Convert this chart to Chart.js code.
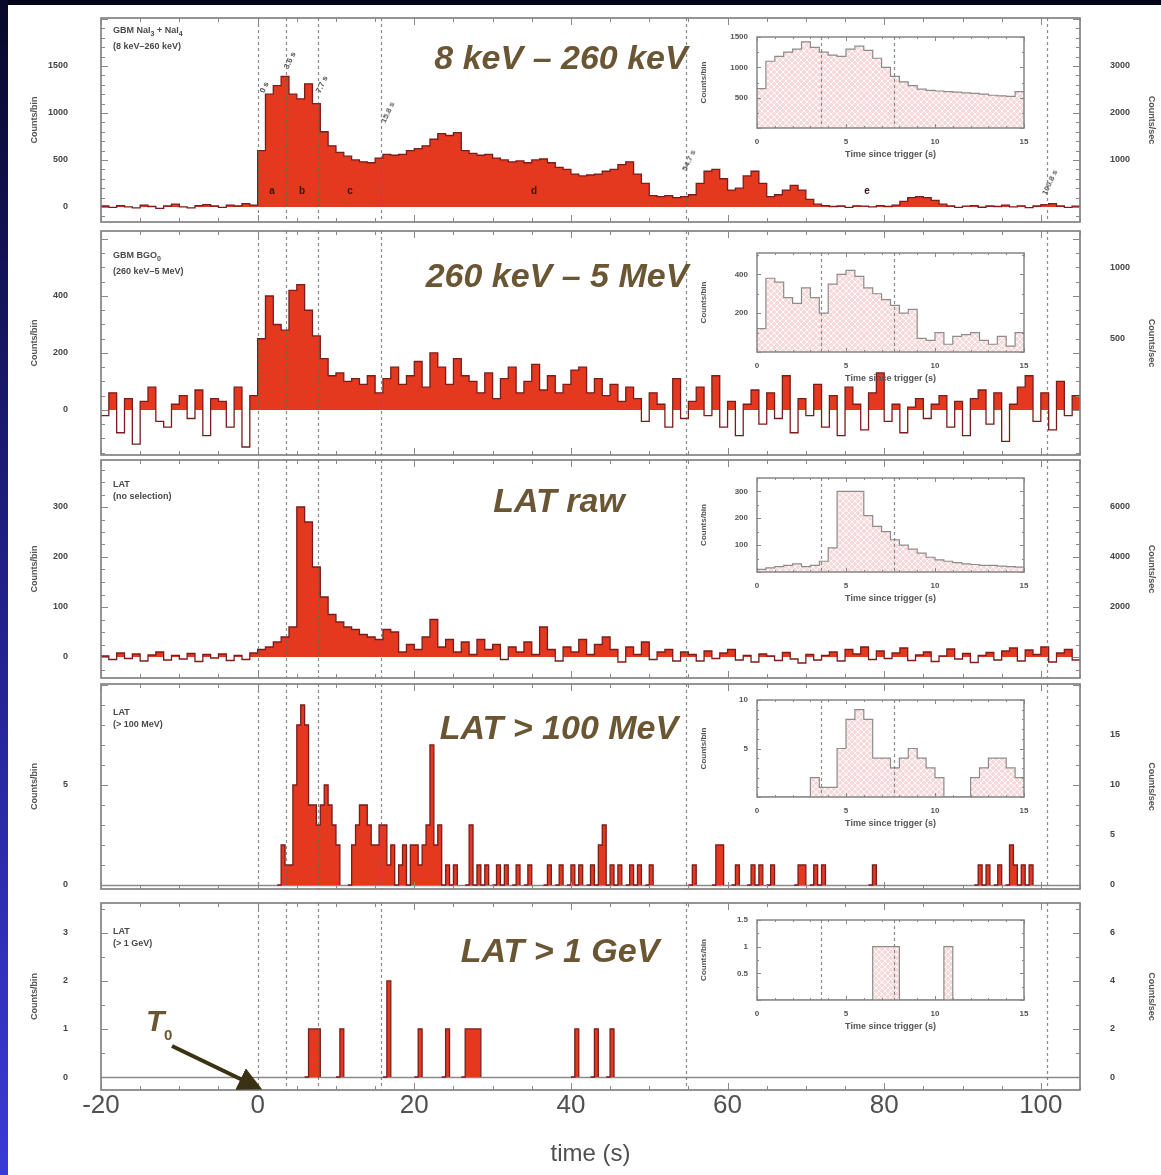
<!DOCTYPE html>
<html><head><meta charset="utf-8">
<script src="https://cdn.jsdelivr.net/npm/chart.js@4.4.1/dist/chart.umd.min.js"></script>
<style>
html,body{margin:0;padding:0;}
body{width:1161px;height:1175px;position:relative;overflow:hidden;background:#03031a;font-family:"Liberation Sans",Arial,sans-serif;}
#sheet{position:absolute;left:8px;top:5px;width:1153px;height:1170px;background:#fff;}
#strip{position:absolute;left:0;top:0;width:8px;height:1175px;background:linear-gradient(#08082a,#1e1e80 45%,#3a3ad6);}
canvas{position:absolute;}
.t{position:absolute;white-space:nowrap;}
.title{font:italic bold 34px "Liberation Sans",Arial,sans-serif;color:#6b5634;transform:translateX(-50%);line-height:38px;}
.lab{font:bold 9px "Liberation Sans",Arial,sans-serif;color:#4a4a4a;line-height:12px;}
.rot{font:bold 8px "Liberation Sans",Arial,sans-serif;color:#555;transform:rotate(-65deg);transform-origin:left center;}
.iv{font:bold 10px "Liberation Sans",Arial,sans-serif;color:#3a1212;transform:translateX(-50%);}
sub{font-size:7px;}
</style>
</head>
<body>
<div id="strip"></div>
<div id="sheet"></div>
<canvas id="p1" width="1161" height="224" style="left:0;top:8px"></canvas>
<canvas id="p2" width="1161" height="244" style="left:0;top:221px"></canvas>
<canvas id="p3" width="1161" height="238" style="left:0;top:450px"></canvas>
<canvas id="p4" width="1161" height="225" style="left:0;top:674px"></canvas>
<canvas id="p5" width="1161" height="282" style="left:0;top:893px"></canvas>
<canvas id="i1" width="340" height="137" style="left:690px;top:27px"></canvas>
<canvas id="i2" width="340" height="145" style="left:690px;top:243px"></canvas>
<canvas id="i3" width="340" height="140" style="left:690px;top:468px"></canvas>
<canvas id="i4" width="340" height="143" style="left:690px;top:690px"></canvas>
<canvas id="i5" width="340" height="126" style="left:690px;top:910px"></canvas>

<div class="t title" style="left:561px;top:38px">8 keV – 260 keV</div>
<div class="t title" style="left:557px;top:256px">260 keV – 5 MeV</div>
<div class="t title" style="left:559px;top:481px">LAT raw</div>
<div class="t title" style="left:559px;top:708px">LAT &gt; 100 MeV</div>
<div class="t title" style="left:560px;top:931px">LAT &gt; 1 GeV</div>

<div class="t lab" style="left:113px;top:24px">GBM NaI<sub>3</sub> + NaI<sub>4</sub><br>(8 keV–260 keV)</div>
<div class="t lab" style="left:113px;top:249px">GBM BGO<sub>0</sub><br>(260 keV–5 MeV)</div>
<div class="t lab" style="left:113px;top:478px">LAT<br>(no selection)</div>
<div class="t lab" style="left:113px;top:706px">LAT<br>(&gt; 100 MeV)</div>
<div class="t lab" style="left:113px;top:925px">LAT<br>(&gt; 1 GeV)</div>

<div class="t rot" style="left:262px;top:88px">0 s</div>
<div class="t rot" style="left:286px;top:64px">3.6 s</div>
<div class="t rot" style="left:318px;top:88px">7.7 s</div>
<div class="t rot" style="left:383px;top:118px">15.8 s</div>
<div class="t rot" style="left:684px;top:166px">54.7 s</div>
<div class="t rot" style="left:1044px;top:190px">100.8 s</div>

<div class="t iv" style="left:272px;top:185px">a</div>
<div class="t iv" style="left:302px;top:185px">b</div>
<div class="t iv" style="left:350px;top:185px">c</div>
<div class="t iv" style="left:534px;top:185px">d</div>
<div class="t iv" style="left:867px;top:185px">e</div>

<div class="t" style="left:146px;top:1004px;font:italic bold 30px 'Liberation Sans',Arial,sans-serif;color:#6b5634;">T</div>
<div class="t" style="left:164px;top:1026px;font:bold 15px 'Liberation Sans',Arial,sans-serif;color:#6b5634;">0</div>
<svg style="position:absolute;left:0;top:0" width="1161" height="1175">
  <defs><marker id="ah" markerWidth="6" markerHeight="6" refX="4" refY="3" orient="auto"><path d="M0,0 L6,3 L0,6 z" fill="#3b3214"/></marker></defs>
  <line x1="172" y1="1046" x2="255" y2="1086" stroke="#3b3214" stroke-width="4" marker-end="url(#ah)"/>
</svg>

<script>
// ---------------- DATA ----------------
const mainBinStart = -20;          // s, first bin of panels 1-3
const mainBinWidth = 1;            // s
const latBinWidth = 0.5;           // s, LAT photon bins
const insetBinWidth = 0.5;         // s

const intervalTimes = [0, 3.6, 7.7, 15.8, 54.7, 100.8];
const timeTicks = [-20, 0, 20, 40, 60, 80, 100];
const insetTimeTicks = [0, 5, 10, 15];

// GBM NaI (8 keV - 260 keV), counts/bin, 1 s bins from -20 s
const gbmNaICounts = [10,-5,15,0,-10,20,5,-15,10,30,0,-10,15,25,10,-5,20,10,35,20,
  600,1200,1290,1390,1200,1150,1310,1100,800,650,
  580,540,500,480,470,520,560,550,560,600,
  620,650,720,780,760,790,600,570,550,560,
  520,500,480,490,470,500,510,470,420,400,
  350,330,340,350,380,400,450,480,350,250,
  120,110,120,100,110,130,250,380,400,300,
  180,200,330,380,250,110,130,180,230,180,
  80,30,15,5,10,-5,12,8,0,15,
  5,20,60,100,110,100,70,30,10,-5,
  8,15,-3,10,5,20,0,12,-8,10,
  25,35,10,-5,8];
// GBM BGO (260 keV - 5 MeV)
const gbmBGOCounts = [-20,60,-80,40,-120,30,80,-40,-60,20,50,-30,70,-90,40,30,-60,80,-130,50,
  250,400,300,280,420,440,350,260,180,120,
  130,100,110,90,120,60,110,150,90,120,
  170,80,200,150,90,180,120,100,60,130,
  40,110,150,60,100,160,70,120,60,90,
  140,150,60,110,50,90,30,80,40,-40,
  60,20,-60,110,-30,30,80,-20,120,-60,
  30,-90,20,70,-50,60,-30,120,-80,40,
  -20,90,-60,50,-90,80,20,-70,60,130,
  -40,20,-80,10,40,-30,20,50,-60,30,
  -90,40,70,-50,60,-110,20,80,120,-40,
  60,-70,100,-20,50];
// LAT raw (no selection)
const latRawCounts = [2,-5,8,-3,6,-8,4,10,-6,3,-4,7,-9,5,-2,6,-7,3,-5,8,
  15,20,30,40,60,300,270,180,120,85,
  70,60,55,45,40,35,55,50,10,25,
  15,40,75,20,35,10,30,5,35,15,
  25,-5,20,10,30,5,60,15,-8,20,
  10,35,5,25,40,15,-10,20,5,30,
  -5,10,15,-8,10,5,-8,12,-3,8,
  15,-6,3,-10,6,2,-7,9,-4,-12,
  5,-6,3,10,-8,15,6,20,-5,12,
  -3,8,18,-7,4,10,-9,2,16,-4,
  7,-11,3,9,-6,12,18,-8,14,5,
  20,-10,8,15,-6];
// LAT > 100 MeV: 0.5 s bins from 0 to 15 s, then sparse later bins
const lat100EarlyCounts = [0,0,0,0,0,0,2,1,1,5,8,9,8,4,4,3,4,5,4,3,2,0,0,0,2,3,4,4,3,2];
const lat100LateTimes  = [15,15.5,16,16.5,17,18,18.5,19.5,20,20.5,21,21.5,22,22.5,23,24,25,27,28,29,30.5,31.5,33,34.5,37,38.5,40,41,42.5,43.5,44,45,46,47.5,48.5,50,55.5,58.5,59,61,63,64,65.5,69,69.5,71,72,78.5,92,93,94.5,96,96.5,97.5,98.5];
const lat100LateCounts = [2,3,3,1,2,1,2,2,2,1,2,3,7,2,3,1,1,3,1,1,1,1,1,1,1,1,1,1,1,2,3,1,1,1,1,1,1,2,2,1,1,1,1,1,1,1,1,1,1,1,1,2,1,1,1];
// LAT > 1 GeV
const lat1GeVTimes  = [6.5,7,7.5,10.5,16.5,20.5,24,26.5,27,27.5,28,40.5,43,45];
const lat1GeVCounts = [1,1,1,1,2,1,1,1,1,1,1,1,1,1];
// insets, 0.5 s bins 0-15 s
const insetNaICounts = [650,1100,1180,1250,1300,1420,1330,1250,1200,1180,1300,1350,1280,1150,1000,850,760,700,640,620,610,600,590,580,570,560,540,530,520,600];
const insetBGOCounts = [120,380,360,280,250,330,280,200,350,400,420,390,330,300,270,240,200,220,70,60,100,40,80,90,100,60,40,80,30,100];
const insetRawCounts = [10,15,20,25,30,20,25,40,90,300,300,300,210,170,150,120,100,85,70,55,45,40,35,30,28,25,25,22,20,18];

// tick labels
const p1LeftTicks = [0,500,1000,1500],   p1RightTicks = [1000,2000,3000];
const p2LeftTicks = [0,200,400],         p2RightTicks = [500,1000];
const p3LeftTicks = [0,100,200,300],     p3RightTicks = [2000,4000,6000];
const p4LeftTicks = [0,5],               p4RightTicks = [0,5,10,15];
const p5LeftTicks = [0,1,2,3],           p5RightTicks = [0,2,4,6];
const i1Ticks = [500,1000,1500], i2Ticks = [200,400], i3Ticks = [100,200,300], i4Ticks = [5,10], i5Ticks = [0.5,1,1.5];

// ---------------- HELPERS ----------------
const FONT = '"Liberation Sans", Arial, sans-serif';
Chart.defaults.font.family = FONT;
const COL_FILL = '#e5391f', COL_LINE = '#7b1c1c';
const NONE = 'rgba(0,0,0,0)';
const plain = v => String(v);

function stepPoints(start, width, vals) {
  const pts = vals.map((v, i) => ({x: start + i * width, y: v}));
  pts.push({x: start + vals.length * width, y: vals[vals.length - 1]});
  return pts;
}
function sparseBins(start, width, n, early, times, counts) {
  const a = new Array(n).fill(0);
  early.forEach((v, i) => { a[i] = v; });
  times.forEach((t, i) => { const k = Math.round((t - start) / width); if (k >= 0 && k < n) a[k] += counts[i]; });
  return a;
}
const lat100Bins = sparseBins(0, latBinWidth, 210, lat100EarlyCounts, lat100LateTimes, lat100LateCounts);
const lat1GeVBins = sparseBins(0, latBinWidth, 210, [], lat1GeVTimes, lat1GeVCounts);

function hatchPattern() {
  const c = document.createElement('canvas'); c.width = 6; c.height = 6;
  const g = c.getContext('2d');
  g.fillStyle = '#f8d9d9'; g.fillRect(0, 0, 6, 6);
  g.strokeStyle = 'rgba(255,255,255,0.85)'; g.lineWidth = 1;
  g.beginPath(); g.moveTo(0, 0); g.lineTo(6, 6); g.moveTo(6, 0); g.lineTo(0, 6); g.stroke();
  return g.createPattern(c, 'repeat');
}
const HATCH = hatchPattern();

const framePlugin = {
  id: 'frame',
  beforeDatasetsDraw(chart, args, o) {
    if (!o.baseline) return;
    const {ctx, chartArea: a, scales: {y}} = chart;
    const py = Math.round(y.getPixelForValue(0)) + 0.5;
    ctx.save(); ctx.strokeStyle = '#8a8a8a'; ctx.lineWidth = 1.5;
    ctx.beginPath(); ctx.moveTo(a.left, py); ctx.lineTo(a.right, py); ctx.stroke(); ctx.restore();
  },
  afterDatasetsDraw(chart, args, o) {
    const {ctx, chartArea: a, scales: {x, y}} = chart;
    ctx.save();
    ctx.strokeStyle = 'rgba(100,100,100,0.75)';
    ctx.lineWidth = 1.2; ctx.setLineDash([3, 3]);
    (o.lines || []).forEach(t => {
      if (t <= x.min || t >= x.max) return;
      const px = Math.round(x.getPixelForValue(t)) + 0.5;
      ctx.beginPath(); ctx.moveTo(px, a.top); ctx.lineTo(px, a.bottom); ctx.stroke();
    });
    ctx.setLineDash([]);
    ctx.strokeStyle = o.frameColor || '#7a7a7a'; ctx.lineWidth = o.frameWidth || 1.6;
    ctx.strokeRect(a.left, a.top, a.width, a.height);
    ctx.lineWidth = 1; ctx.strokeStyle = '#888';
    ctx.beginPath();
    for (let t = Math.ceil(x.min / o.xMinor) * o.xMinor; t <= x.max + 1e-9; t += o.xMinor) {
      const px = Math.round(x.getPixelForValue(t)) + 0.5;
      const L = Math.abs(Math.round(t / o.xMajor) * o.xMajor - t) < 1e-6 ? o.majorLen : o.minorLen;
      ctx.moveTo(px, a.bottom); ctx.lineTo(px, a.bottom - L);
      ctx.moveTo(px, a.top); ctx.lineTo(px, a.top + L);
    }
    for (let v = Math.ceil(y.min / o.yMinor) * o.yMinor; v <= y.max + 1e-9; v += o.yMinor) {
      const py = Math.round(y.getPixelForValue(v)) + 0.5;
      const L = Math.abs(Math.round(v / o.yMajor) * o.yMajor - v) < 1e-6 ? o.majorLen : o.minorLen;
      ctx.moveTo(a.left, py); ctx.lineTo(a.left + L, py);
      ctx.moveTo(a.right, py); ctx.lineTo(a.right - L, py);
    }
    ctx.stroke();
    ctx.restore();
  }
};

const tickFont = {size: 9, weight: 'bold', family: FONT};
// invisible tick marks used only to push the labels away from the frame
const spacerGrid = len => ({display: true, drawOnChartArea: false, drawTicks: true, tickLength: len, color: NONE, tickColor: NONE});

function mainChart(id, o) {
  const ds = {
    data: o.points, stepped: 'before', borderColor: COL_LINE, borderWidth: 1.3, pointRadius: 0, pointHoverRadius: 0,
    fill: {target: 'origin', above: COL_FILL, below: NONE}
  };
  if (o.sparse) ds.segment = {borderColor: c => (c.p0.parsed.y === 0 && c.p1.parsed.y === 0) ? NONE : undefined};
  const xScale = {
    type: 'linear', min: -20, max: 105, display: !!o.showX,
    afterBuildTicks: s => { s.ticks = timeTicks.map(v => ({value: v})); },
    grid: {display: false}, border: {display: false},
    ticks: {color: '#505050', padding: -8, font: {size: 26, family: FONT}, maxRotation: 0, autoSkip: false, callback: plain},
    title: {display: !!o.showX, text: 'time (s)', color: '#505050', font: {size: 24, family: FONT}, padding: {top: 0, bottom: 4}}
  };
  if (o.showX) xScale.afterFit = s => { s.height = 83; };
  return new Chart(document.getElementById(id), {
    type: 'line',
    data: {datasets: [ds]},
    options: {
      responsive: false, animation: false, devicePixelRatio: 1, events: [],
      layout: {autoPadding: false, padding: {top: 10, bottom: o.padBottom ?? 10, left: 0, right: 0}},
      plugins: {legend: {display: false}, tooltip: {enabled: false},
        frame: {lines: intervalTimes, xMinor: 5, xMajor: 20, yMinor: o.yMinor, yMajor: o.yMajor, majorLen: 7, minorLen: 4, baseline: !!o.sparse}},
      scales: {
        x: xScale,
        y: {position: 'left', min: o.ymin, max: o.ymax,
          afterBuildTicks: s => { s.ticks = o.left.map(v => ({value: v})); },
          afterFit: s => { s.width = 101; },
          grid: spacerGrid(30), border: {display: false},
          ticks: {padding: 3, color: '#444', font: tickFont, callback: plain},
          title: {display: true, text: 'Counts/bin', color: '#555', font: tickFont, padding: {top: 29, bottom: 0}}},
        y2: {position: 'right', min: o.ymin * o.f, max: o.ymax * o.f,
          afterBuildTicks: s => { s.ticks = o.right.map(v => ({value: v})); },
          afterFit: s => { s.width = 81; },
          grid: spacerGrid(27), border: {display: false},
          ticks: {padding: 3, color: '#444', font: tickFont, callback: plain},
          title: {display: true, text: 'Counts/sec', color: '#555', font: tickFont, padding: {top: 4, bottom: 0}}}
      }
    },
    plugins: [framePlugin]
  });
}

function insetChart(id, vals, ymax, yTicks, yMinor, yMajor) {
  const small = {size: 8, weight: 'bold', family: FONT};
  return new Chart(document.getElementById(id), {
    type: 'line',
    data: {datasets: [{data: stepPoints(0, insetBinWidth, vals), stepped: 'before', borderColor: '#8c8c8c', borderWidth: 1.2, pointRadius: 0, pointHoverRadius: 0,
      fill: {target: 'origin', above: HATCH, below: NONE}}]},
    options: {
      responsive: false, animation: false, devicePixelRatio: 1, events: [],
      layout: {autoPadding: false, padding: {top: 10, bottom: 0, left: 0, right: 6}},
      plugins: {legend: {display: false}, tooltip: {enabled: false},
        frame: {lines: intervalTimes, xMinor: 1, xMajor: 5, yMinor: yMinor, yMajor: yMajor, majorLen: 4, minorLen: 2, frameColor: '#858585', frameWidth: 1.5}},
      scales: {
        x: {type: 'linear', min: 0, max: 15,
          afterBuildTicks: s => { s.ticks = insetTimeTicks.map(v => ({value: v})); },
          afterFit: s => { s.height = 36; },
          grid: {display: false}, border: {display: false},
          ticks: {padding: 1, color: '#555', font: small, maxRotation: 0, callback: plain},
          title: {display: true, text: 'Time since trigger (s)', color: '#555', font: {size: 9, weight: 'bold', family: FONT}, padding: {top: 0, bottom: 4}}},
        y: {position: 'left', min: 0, max: ymax,
          afterBuildTicks: s => { s.ticks = yTicks.map(v => ({value: v})); },
          afterFit: s => { s.width = 67; },
          grid: spacerGrid(6), border: {display: false},
          ticks: {padding: 3, color: '#555', font: small, callback: plain},
          title: {display: true, text: 'Counts/bin', color: '#555', font: small, padding: {top: 9, bottom: 0}}}
      }
    },
    plugins: [framePlugin]
  });
}

// ---------------- CHARTS ----------------
mainChart('p1', {points: stepPoints(mainBinStart, mainBinWidth, gbmNaICounts), ymin: -160, ymax: 2010, f: 2, left: p1LeftTicks, right: p1RightTicks, yMinor: 100, yMajor: 500});
mainChart('p2', {points: stepPoints(mainBinStart, mainBinWidth, gbmBGOCounts), ymin: -158, ymax: 628, f: 2, left: p2LeftTicks, right: p2RightTicks, yMinor: 50, yMajor: 200});
mainChart('p3', {points: stepPoints(mainBinStart, mainBinWidth, latRawCounts), ymin: -42, ymax: 394, f: 20, left: p3LeftTicks, right: p3RightTicks, yMinor: 25, yMajor: 100});
mainChart('p4', {points: stepPoints(0, latBinWidth, lat100Bins), sparse: true, ymin: -0.2, ymax: 10.05, f: 2, left: p4LeftTicks, right: p4RightTicks, yMinor: 1, yMajor: 5});
mainChart('p5', {points: stepPoints(0, latBinWidth, lat1GeVBins), sparse: true, ymin: -0.27, ymax: 3.62, f: 2, left: p5LeftTicks, right: p5RightTicks, yMinor: 0.5, yMajor: 1, showX: true, padBottom: 2});

insetChart('i1', insetNaICounts, 1500, i1Ticks, 250, 500);
insetChart('i2', insetBGOCounts, 510, i2Ticks, 100, 200);
insetChart('i3', insetRawCounts, 350, i3Ticks, 50, 100);
insetChart('i4', lat100Bins.slice(0, 30), 10, i4Ticks, 1, 5);
insetChart('i5', lat1GeVBins.slice(0, 30), 1.5, i5Ticks, 0.25, 0.5);
</script>
</body></html>
